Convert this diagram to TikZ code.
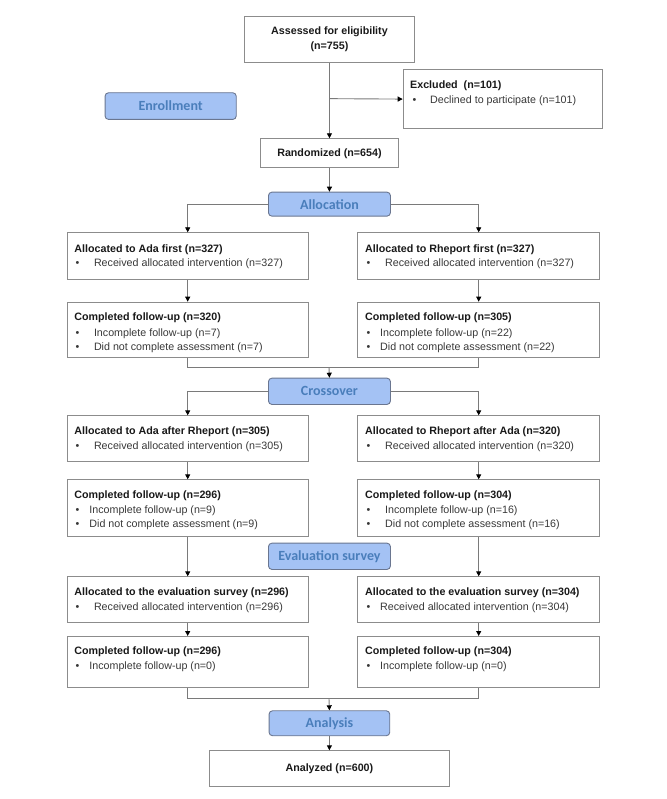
\documentclass[tikz,border=0pt]{standalone}
\usepackage{fontspec}
\setmainfont{Liberation Sans}
\newfontfamily\lblfont{Carlito}
\usetikzlibrary{arrows.meta}
\definecolor{boxline}{HTML}{8C8C8C}
\definecolor{connc}{HTML}{7A7A7A}
\definecolor{lblfill}{HTML}{A4C2F4}
\definecolor{lbldraw}{HTML}{6A7690}
\definecolor{lbltext}{HTML}{4A7EBB}
\definecolor{bodytext}{HTML}{383838}
\begin{document}
\begin{tikzpicture}[x=1pt,y=-1pt,
 box/.style={draw=boxline,line width=0.9pt,inner sep=0pt,anchor=north west},
 cbox/.style={box,align=center,text=black!90,font=\bfseries\fontsize{10.7}{15}\selectfont},
 lbl/.style={draw=lbldraw,fill=lblfill,line width=0.9pt,rounded corners=3.5pt,text=lbltext,font=\lblfont\bfseries\fontsize{14}{16}\selectfont,inner sep=0pt,anchor=north west},
 ttl/.style={anchor=base west,inner sep=0pt,font=\bfseries\fontsize{10.7}{13}\selectfont,text=black!90},
 txt/.style={anchor=base west,inner sep=0pt,font=\fontsize{10.7}{13}\selectfont,text=bodytext},
 conn/.style={draw=connc,line width=0.9pt},
 arr/.style={conn,-{Triangle[length=5pt,width=5pt,color=black]}}
]
\useasboundingbox (0,0) rectangle (666,799);

% top
\node[cbox,minimum width=169.6pt,minimum height=46.3pt] (assess) at (244.2,16) {Assessed for eligibility\\(n=755)};
\node[box,minimum width=199.6pt,minimum height=58.7pt] (excl) at (402.7,69.3) {};
\node[ttl] (exclt) at (410,88.2) {Excluded\ \ (n=101)};
\node[txt] (exclb) at (412.3,103.2) {•};
\node[txt] (excls) at (430,103.2) {Declined to participate (n=101)};
\node[lbl,minimum width=131.2pt,minimum height=26.7pt] (enroll) at (104.6,92.3) {Enrollment};
\node[cbox,minimum width=137.2pt,minimum height=29pt] (rand) at (260.4,138.3) {Randomized (n=654)};

% labels
\node[lbl,minimum width=122pt,minimum height=24pt] (alloc) at (268,191.7) {Allocation};
\node[lbl,minimum width=122pt,minimum height=26.3pt] (cross) at (268,377.7) {Crossover};
\node[lbl,minimum width=122pt,minimum height=26.3pt] (eval) at (268,542.7) {Evaluation survey};
\node[lbl,minimum width=120.7pt,minimum height=25pt] (anal) at (268.6,710.3) {Analysis};
\node[cbox,minimum width=240.3pt,minimum height=36pt] (final) at (208.8,750.3) {Analyzed (n=600)};

% column boxes
\node[box,minimum width=241.5pt,minimum height=46.4pt] (b1l) at (66.5,232.3) {};
\node[box,minimum width=241.9pt,minimum height=46.4pt] (b1r) at (357.3,232.3) {};
\node[box,minimum width=241.5pt,minimum height=55.6pt] (b2l) at (66.5,301.7) {};
\node[box,minimum width=241.9pt,minimum height=55.6pt] (b2r) at (357.3,301.7) {};
\node[box,minimum width=241.5pt,minimum height=46pt] (b3l) at (66.5,415.3) {};
\node[box,minimum width=241.9pt,minimum height=46pt] (b3r) at (357.3,415.3) {};
\node[box,minimum width=241.5pt,minimum height=56.7pt] (b4l) at (66.5,479.3) {};
\node[box,minimum width=241.9pt,minimum height=56.7pt] (b4r) at (357.3,479.3) {};
\node[box,minimum width=241.5pt,minimum height=46pt] (b5l) at (66.5,576.3) {};
\node[box,minimum width=241.9pt,minimum height=46pt] (b5r) at (357.3,576.3) {};
\node[box,minimum width=241.5pt,minimum height=51.3pt] (b6l) at (66.5,636) {};
\node[box,minimum width=241.9pt,minimum height=51.3pt] (b6r) at (357.3,636) {};

% box texts: row 1
\node[ttl] (t1l) at (74.2,252.2) {Allocated to Ada first (n=327)};
\node[txt] (p1l) at (75.4,266.9) {•};
\node[txt] (s1l) at (93.8,266.9) {Received allocated intervention (n=327)};
\node[ttl] (t1r) at (365,252.2) {Allocated to Rheport first (n=327)};
\node[txt] (p1r) at (366.5,266.9) {•};
\node[txt] (s1r) at (385,266.9) {Received allocated intervention (n=327)};
% row 2
\node[ttl] (t2l) at (74.2,320.9) {Completed follow-up (n=320)};
\node[txt] (p2la) at (75.4,336.2) {•};
\node[txt] (s2la) at (93.8,336.2) {Incomplete follow-up (n=7)};
\node[txt] (p2lb) at (75.4,350.6) {•};
\node[txt] (s2lb) at (93.8,350.6) {Did not complete assessment (n=7)};
\node[ttl] (t2r) at (365,320.9) {Completed follow-up (n=305)};
\node[txt] (p2ra) at (366.5,336.2) {•};
\node[txt] (s2ra) at (380,336.2) {Incomplete follow-up (n=22)};
\node[txt] (p2rb) at (366.5,350.6) {•};
\node[txt] (s2rb) at (380,350.6) {Did not complete assessment (n=22)};
% row 3
\node[ttl] (t3l) at (74.2,434.6) {Allocated to Ada after Rheport (n=305)};
\node[txt] (p3l) at (75.4,449.9) {•};
\node[txt] (s3l) at (93.8,449.9) {Received allocated intervention (n=305)};
\node[ttl] (t3r) at (365,434.6) {Allocated to Rheport after Ada (n=320)};
\node[txt] (p3r) at (366.5,449.9) {•};
\node[txt] (s3r) at (385,449.9) {Received allocated intervention (n=320)};
% row 4
\node[ttl] (t4l) at (74.2,498.6) {Completed follow-up (n=296)};
\node[txt] (p4la) at (75.4,513.6) {•};
\node[txt] (s4la) at (89.2,513.6) {Incomplete follow-up (n=9)};
\node[txt] (p4lb) at (75.4,527.9) {•};
\node[txt] (s4lb) at (89.2,527.9) {Did not complete assessment (n=9)};
\node[ttl] (t4r) at (365,498.6) {Completed follow-up (n=304)};
\node[txt] (p4ra) at (366.5,513.6) {•};
\node[txt] (s4ra) at (385,513.6) {Incomplete follow-up (n=16)};
\node[txt] (p4rb) at (366.5,527.9) {•};
\node[txt] (s4rb) at (385,527.9) {Did not complete assessment (n=16)};
% row 5
\node[ttl] (t5l) at (74.2,595.6) {Allocated to the evaluation survey (n=296)};
\node[txt] (p5l) at (75.4,610.6) {•};
\node[txt] (s5l) at (93.8,610.6) {Received allocated intervention (n=296)};
\node[ttl] (t5r) at (365,595.6) {Allocated to the evaluation survey (n=304)};
\node[txt] (p5r) at (366.5,610.6) {•};
\node[txt] (s5r) at (380,610.6) {Received allocated intervention (n=304)};
% row 6
\node[ttl] (t6l) at (74.2,654.6) {Completed follow-up (n=296)};
\node[txt] (p6l) at (75.4,669.9) {•};
\node[txt] (s6l) at (89.2,669.9) {Incomplete follow-up (n=0)};
\node[ttl] (t6r) at (365,654.6) {Completed follow-up (n=304)};
\node[txt] (p6r) at (366.5,669.9) {•};
\node[txt] (s6r) at (380,669.9) {Incomplete follow-up (n=0)};

% connectors
\coordinate (ex) at (329,98.65);
\coordinate (j1) at (329,367.3);
\coordinate (j2) at (329,698.7);
\draw[arr] (assess.south) -- (rand.north);
\draw[arr] (ex) -- (excl.west);
\draw[arr] (rand.south) -- (alloc.north);
\draw[arr] (alloc.west) -| (b1l.north);
\draw[arr] (alloc.east) -| (b1r.north);
\draw[arr] (b1l.south) -- (b2l.north);
\draw[arr] (b1r.south) -- (b2r.north);
\draw[conn] (b2l.south) |- (j1) -| (b2r.south);
\draw[arr] (j1) -- (cross.north);
\draw[arr] (cross.west) -| (b3l.north);
\draw[arr] (cross.east) -| (b3r.north);
\draw[arr] (b3l.south) -- (b4l.north);
\draw[arr] (b3r.south) -- (b4r.north);
\draw[arr] (b4l.south) -- (b5l.north);
\draw[arr] (b4r.south) -- (b5r.north);
\draw[arr] (b5l.south) -- (b6l.north);
\draw[arr] (b5r.south) -- (b6r.north);
\draw[conn] (b6l.south) |- (j2) -| (b6r.south);
\draw[arr] (j2) -- (anal.north);
\draw[arr] (anal.south) -- (final.north);
\end{tikzpicture}
\end{document}
